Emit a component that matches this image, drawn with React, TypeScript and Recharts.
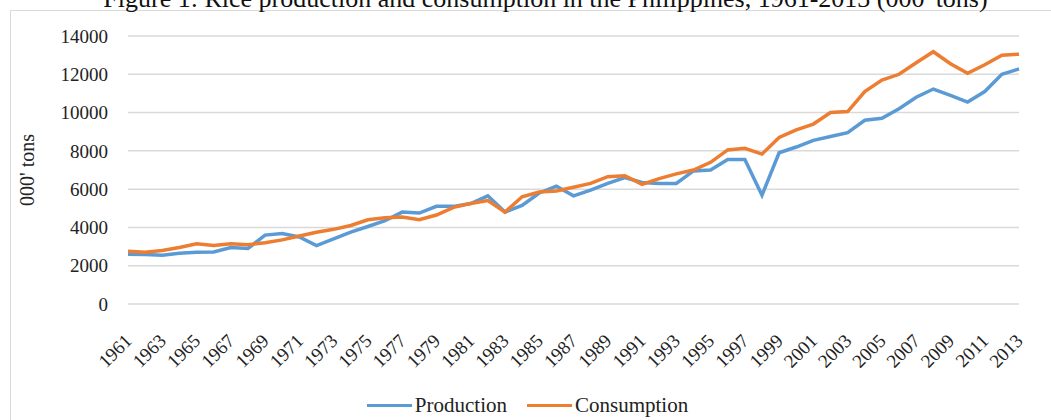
import React from "react";
import {
  LineChart,
  Line,
  XAxis,
  YAxis,
  CartesianGrid,
  Legend,
} from "recharts";

const years = [
  "1961", "1962", "1963", "1964", "1965", "1966", "1967", "1968", "1969", "1970",
  "1971", "1972", "1973", "1974", "1975", "1976", "1977", "1978", "1979", "1980",
  "1981", "1982", "1983", "1984", "1985", "1986", "1987", "1988", "1989", "1990",
  "1991", "1992", "1993", "1994", "1995", "1996", "1997", "1998", "1999", "2000",
  "2001", "2002", "2003", "2004", "2005", "2006", "2007", "2008", "2009", "2010",
  "2011", "2012", "2013",
];

const production = [
  2600, 2580, 2550, 2650, 2700, 2720, 2950, 2900, 3600, 3680,
  3500, 3050, 3400, 3750, 4050, 4350, 4800, 4750, 5100, 5100,
  5250, 5650, 4800, 5150, 5800, 6150, 5650, 5950, 6300, 6600,
  6350, 6300, 6300, 6950, 7000, 7550, 7550, 5680, 7900, 8200,
  8550, 8750, 8950, 9600, 9700, 10200, 10800, 11230, 10900, 10550,
  11100, 12000, 12280,
];

const consumption = [
  2750, 2700, 2800, 2950, 3150, 3050, 3150, 3100, 3200, 3350,
  3550, 3750, 3900, 4100, 4400, 4500, 4550, 4400, 4650, 5050,
  5250, 5400, 4800, 5600, 5850, 5900, 6100, 6300, 6650, 6700,
  6250, 6550, 6800, 7000, 7400, 8050, 8130, 7830, 8700, 9100,
  9400, 10000, 10050, 11100, 11700, 12000, 12600, 13180, 12550, 12050,
  12500, 13000, 13050,
];

const yTicks = [0, 2000, 4000, 6000, 8000, 10000, 12000, 14000];
const seriesOrder = ["production", "consumption"];

const data = years.map((year, i) => ({
  year,
  production: production[i],
  consumption: consumption[i],
}));

const FONT = '"Liberation Serif", "Times New Roman", serif';
const TEXT = "#222";

function YearTick({ x, y, payload }: any) {
  return (
    <g transform={`translate(${x + 5},${y + 36})`}>
      <text
        x={0}
        y={0}
        textAnchor="end"
        transform="rotate(-45)"
        fontFamily={FONT}
        fontSize={19}
        fill={TEXT}
      >
        {payload.value}
      </text>
    </g>
  );
}

function LegendBox({ payload }: any) {
  const items = [...(payload || [])].sort(
    (a: any, b: any) => seriesOrder.indexOf(a.dataKey) - seriesOrder.indexOf(b.dataKey)
  );
  return (
    <div
      style={{
        display: "flex",
        justifyContent: "center",
        alignItems: "center",
        height: 30,
        marginLeft: 36,
        fontFamily: FONT,
        fontSize: 21,
        color: TEXT,
      }}
    >
      {items.map((item: any) => (
        <div
          key={item.value}
          style={{ display: "flex", alignItems: "center", margin: "0 10px" }}
        >
          <span
            style={{
              display: "inline-block",
              width: 45,
              height: 3,
              background: item.color,
              marginRight: 3,
            }}
          />
          <span>{item.value}</span>
        </div>
      ))}
    </div>
  );
}

export default function App() {
  return (
    <div
      style={{
        position: "absolute",
        left: 0,
        top: 0,
        width: 1051,
        height: 420,
        overflow: "hidden",
        background: "#fff",
      }}
    >
      <div
        style={{
          position: "absolute",
          left: 10,
          top: 10,
          right: 0,
          bottom: 0,
          borderLeft: "1.5px solid #d9d9d9",
          borderTop: "1.5px solid #d9d9d9",
        }}
      />
      <div
        style={{
          position: "absolute",
          left: 20,
          top: -14,
          width: 1051,
          textAlign: "center",
          whiteSpace: "nowrap",
          fontFamily: FONT,
          fontSize: 26,
          lineHeight: "26px",
          color: "#111",
        }}
      >
        Figure 1: Rice production and consumption in the Philippines, 1961-2013 (000' tons)
      </div>
      <div style={{ position: "absolute", left: 0, top: 0 }}>
        <LineChart
          width={1051}
          height={420}
          data={data}
          margin={{ top: 36, right: 32, bottom: 0, left: 0 }}
        >
          <CartesianGrid
            vertical={false}
            stroke="#d9d9d9"
            strokeWidth={1.5}
          />
          <XAxis
            dataKey="year"
            interval={1}
            height={86}
            tickLine={false}
            axisLine={false}
            tickSize={0}
            tick={<YearTick />}
          />
          <YAxis
            domain={[0, 14000]}
            ticks={yTicks}
            width={128}
            tickLine={false}
            axisLine={false}
            tickSize={0}
            tickMargin={20}
            tick={{ fontFamily: FONT, fontSize: 19, fill: TEXT }}
            label={{
              value: "000' tons",
              angle: -90,
              position: "insideLeft",
              offset: 27,
              style: {
                textAnchor: "middle",
                fontFamily: FONT,
                fontSize: 20,
                fill: TEXT,
              },
            }}
          />
          <Legend
            verticalAlign="bottom"
            height={30}
            itemSorter={null}
            content={<LegendBox />}
          />
          <Line
            type="linear"
            dataKey="production"
            name="Production"
            stroke="#5b9bd5"
            strokeWidth={3.5}
            dot={false}
            isAnimationActive={false}
          />
          <Line
            type="linear"
            dataKey="consumption"
            name="Consumption"
            stroke="#ed7d31"
            strokeWidth={3.5}
            dot={false}
            isAnimationActive={false}
          />
        </LineChart>
      </div>
    </div>
  );
}
